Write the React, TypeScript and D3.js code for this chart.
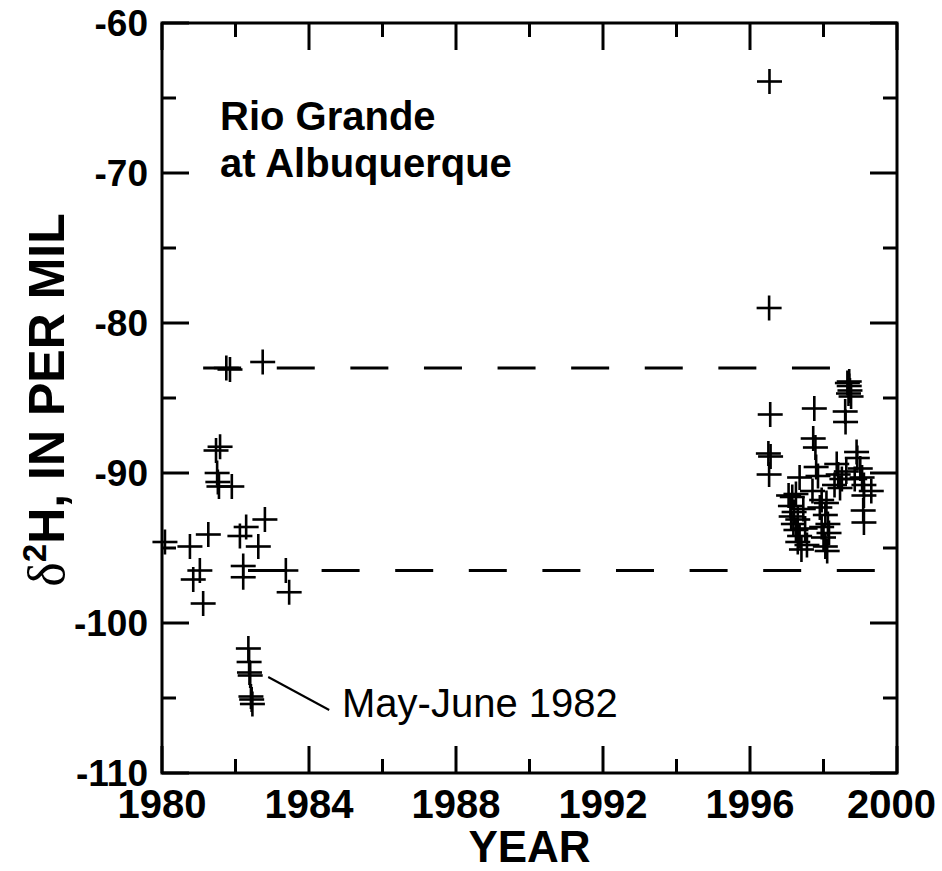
import React from 'react';
import * as d3 from 'd3';

const W = 942;
const H = 871;
const plot = { left: 162, right: 897, top: 23, bottom: 773 };

// Samples 1980-1983
const earlyYears = [
  1980.08, 1980.76, 1980.85, 1981.03, 1981.12, 1981.26, 1981.47, 1981.58,
  1981.5, 1981.52, 1981.55, 1981.9, 1981.75, 1981.85, 1982.74, 1982.12,
  1982.29, 1982.62, 1982.8, 1982.21, 1982.21, 1983.37, 1983.46,
];
const earlyDelta = [
  -94.6, -94.9, -97.1, -96.5, -98.7, -94.1, -88.5, -88.25,
  -90.0, -90.6, -90.9, -90.9, -83.0, -83.1, -82.6, -94.2,
  -93.6, -94.9, -93.1, -96.2, -96.95, -96.5, -97.95,
];

// May-June 1982 runoff samples
const runoffYears = [1982.35, 1982.37, 1982.38, 1982.4, 1982.42, 1982.44, 1982.46];
const runoffDelta = [-101.7, -102.6, -103.3, -103.5, -104.9, -105.1, -105.4];

// Samples 1996-1999
const lateYears = [
  1996.53, 1996.52, 1996.55, 1996.5, 1996.56, 1996.52,
  1997.05, 1997.15, 1997.25, 1997.1, 1997.2, 1997.12, 1997.3, 1997.18,
  1997.25, 1997.35, 1997.3, 1997.4, 1997.35, 1997.45, 1997.5, 1997.55,
  1997.75, 1997.72, 1997.78, 1997.8, 1997.85, 1997.7, 1997.9, 1997.95,
  1998.0, 1998.05, 1998.1, 1998.08, 1998.05, 1998.12, 1998.15, 1997.95,
  1998.36, 1998.4, 1998.3, 1998.45, 1998.5, 1998.59, 1998.6, 1998.65,
  1998.7, 1998.72, 1998.68, 1998.75, 1998.7, 1998.62,
  1998.9, 1998.92, 1999.0, 1999.05, 1999.1, 1999.3, 1999.1, 1999.08,
  1999.1, 1998.85,
];
const lateDelta = [
  -63.9, -79.0, -86.1, -88.7, -88.9, -90.1,
  -91.5, -91.6, -91.4, -92.2, -92.6, -92.9, -93.1, -93.4,
  -93.8, -94.2, -94.6, -95.1, -90.3, -92.4, -93.7, -94.8,
  -85.7, -87.7, -88.3, -89.6, -90.2, -91.2, -92.3, -93.6,
  -94.3, -94.9, -95.2, -92.0, -92.8, -93.4, -94.0, -91.8,
  -89.4, -90.1, -90.8, -91.0, -90.4, -85.9, -86.6, -84.0,
  -84.2, -84.5, -84.7, -84.9, -83.9, -89.9,
  -88.6, -89.0, -89.7, -90.3, -90.8, -91.2, -91.5, -92.5,
  -93.3, -90.4,
];

const xMajorTicks = [1980, 1984, 1988, 1992, 1996, 2000];
const xMinorTicks = [1982, 1986, 1990, 1994, 1998];
const yMajorTicks = [-60, -70, -80, -90, -100, -110];
const yMinorTicks = [-65, -75, -85, -95, -105];

// Dashed reference levels and the year span each one covers
const refLevels = [-83, -96.5];
const refStart = [1981.12, 1982.34];
const refEnd = [1998.2, 1999.4];

const sans = '"Liberation Sans", Arial, Helvetica, sans-serif';

export default function App() {
  const x = d3.scaleLinear().domain([1980, 2000]).range([plot.left, plot.right]);
  const y = d3.scaleLinear().domain([-110, -60]).range([plot.bottom, plot.top]);

  const pts: [number, number][] = [
    ...earlyYears.map((t, i) => [t, earlyDelta[i]] as [number, number]),
    ...runoffYears.map((t, i) => [t, runoffDelta[i]] as [number, number]),
    ...lateYears.map((t, i) => [t, lateDelta[i]] as [number, number]),
  ];
  const arm = 12.5;
  const majorLen = 27;
  const minorLen = 14;

  const leaderFrom = [x(1982.89), y(-103.6)];
  const leaderTo = [x(1984.55), y(-105.8)];
  const lastTick = xMajorTicks[xMajorTicks.length - 1];

  return (
    <svg width={W} height={H} style={{ position: 'absolute', left: 0, top: 0, background: '#fff' }}>
      {/* dashed reference lines */}
      {refLevels.map((v, i) => (
        <line key={`ref${i}`} x1={x(refStart[i])} x2={x(refEnd[i])} y1={y(v)} y2={y(v)}
          stroke="#000" strokeWidth={3} strokeDasharray="38 35.6" />
      ))}

      {/* sample crosses */}
      <g stroke="#000" strokeWidth={2.6}>
        {pts.map(([t, v], i) => (
          <g key={i}>
            <line x1={x(t) - arm} x2={x(t) + arm} y1={y(v)} y2={y(v)} />
            <line x1={x(t)} x2={x(t)} y1={y(v) - arm} y2={y(v) + arm} />
          </g>
        ))}
      </g>

      {/* frame */}
      <rect x={plot.left} y={plot.top} width={plot.right - plot.left} height={plot.bottom - plot.top}
        fill="none" stroke="#000" strokeWidth={3} />

      {/* ticks, inward on all four sides */}
      <g stroke="#000" strokeWidth={3}>
        {[...xMajorTicks.map((t) => [t, majorLen]), ...xMinorTicks.map((t) => [t, minorLen])].map(([t, l], i) => (
          <g key={`xt${i}`}>
            <line x1={x(t)} x2={x(t)} y1={plot.bottom} y2={plot.bottom - l} />
            <line x1={x(t)} x2={x(t)} y1={plot.top} y2={plot.top + l} />
          </g>
        ))}
        {[...yMajorTicks.map((v) => [v, majorLen]), ...yMinorTicks.map((v) => [v, minorLen])].map(([v, l], i) => (
          <g key={`yt${i}`}>
            <line x1={plot.left} x2={plot.left + l} y1={y(v)} y2={y(v)} />
            <line x1={plot.right} x2={plot.right - l} y1={y(v)} y2={y(v)} />
          </g>
        ))}
      </g>

      {/* tick labels */}
      <g fontFamily={sans} fontWeight="bold" fontSize={40} fill="#000">
        {xMajorTicks.map((t) => (
          <text key={`xl${t}`} x={t === lastTick ? 936 : x(t)} y={818}
            textAnchor={t === lastTick ? 'end' : 'middle'}>{t}</text>
        ))}
      </g>
      <g fontFamily={sans} fontWeight="bold" fontSize={37} fill="#000">
        {yMajorTicks.map((v) => (
          <text key={`yl${v}`} x={148} y={y(v)} dy="0.36em" textAnchor="end">{v}</text>
        ))}
      </g>

      {/* axis titles */}
      <text x={(plot.left + plot.right) / 2} y={862} textAnchor="middle" fontFamily={sans}
        fontWeight="bold" fontSize={44}>YEAR</text>
      <text transform={`translate(64,${(plot.top + plot.bottom) / 2 + 2}) rotate(-90)`} textAnchor="middle"
        fontFamily={sans} fontWeight="bold" fontSize={50}>
        <tspan fontFamily='"Liberation Serif", "DejaVu Serif", serif' fontWeight="normal" fontSize={52}>δ</tspan>
        <tspan fontSize={33} dy={-18}>2</tspan>
        <tspan dy={18}>H, IN PER MIL</tspan>
      </text>

      {/* site name */}
      <g fontFamily={sans} fontWeight="bold" fontSize={40}>
        <text x={220} y={130}>Rio Grande</text>
        <text x={220} y={177}>at Albuquerque</text>
      </g>

      {/* annotation */}
      <line x1={leaderFrom[0]} y1={leaderFrom[1]} x2={leaderTo[0]} y2={leaderTo[1]} stroke="#000" strokeWidth={2} />
      <text x={342} y={717} fontFamily={sans} fontSize={40}>May-June 1982</text>
    </svg>
  );
}
